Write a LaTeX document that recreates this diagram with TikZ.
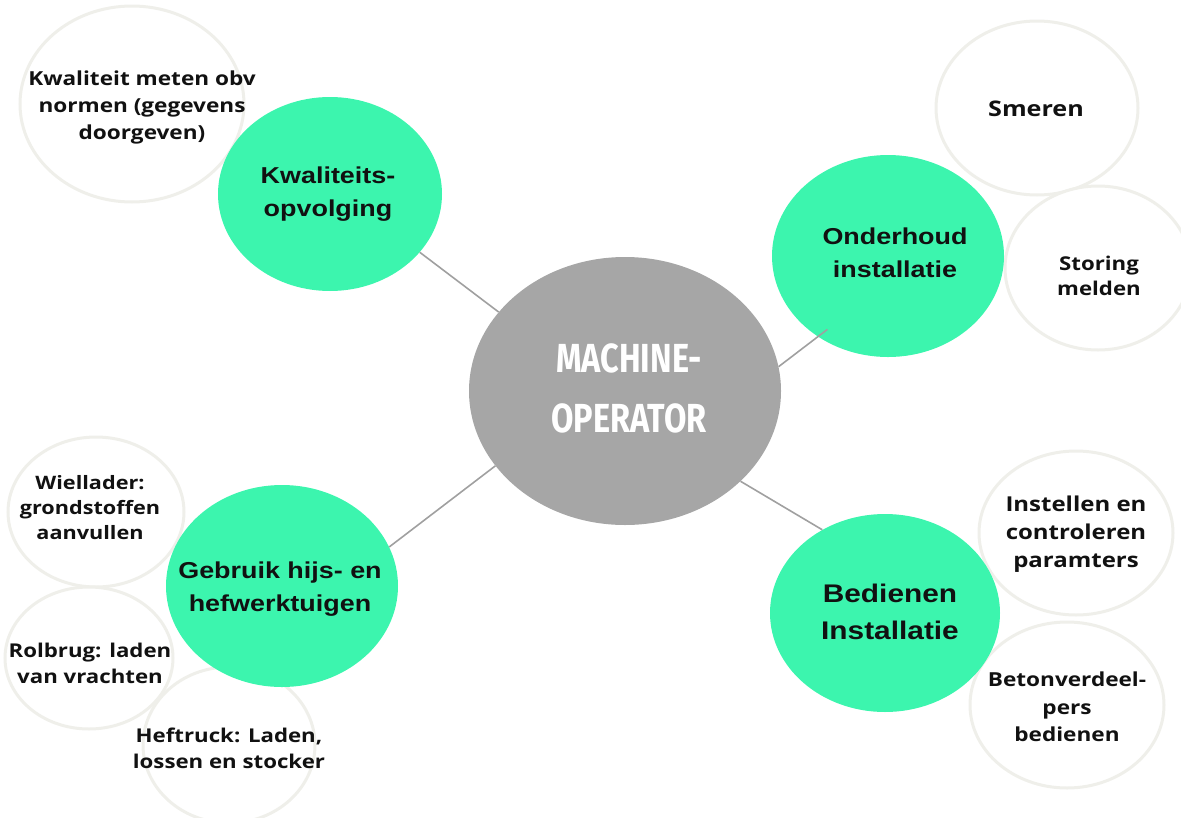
\documentclass[tikz,border=0pt]{standalone}
\usepackage{fontspec}
\usetikzlibrary{shapes.geometric}
\newfontfamily\greenfont{Liberation Sans}[FakeStretch=1.17]
\newfontfamily\whitefont{Open Sans}[FakeStretch=1.17]
\newfontfamily\hubfont{Fira Sans}[FakeStretch=0.8]
\definecolor{mint}{HTML}{3CF5AE}
\definecolor{hubgray}{HTML}{A6A6A6}
\definecolor{ringgray}{HTML}{EFEFEA}
\definecolor{linegray}{HTML}{A0A0A0}
\definecolor{inkblack}{HTML}{111111}
\tikzset{
  bubble/.style={ellipse, draw=ringgray, line width=3pt, fill=white, inner sep=0pt},
  topic/.style={ellipse, fill=mint, inner sep=0pt},
  hub/.style={ellipse, fill=hubgray, inner sep=0pt},
  link/.style={draw=linegray, line width=1.6pt},
  wtext/.style={align=center, inner sep=0pt, text=inkblack, font=\whitefont\bfseries\fontsize{19}{26}\selectfont},
  gtext/.style={align=center, inner sep=0pt, text=inkblack, font=\greenfont\bfseries\fontsize{23}{33.5}\selectfont},
  htext/.style={align=center, inner sep=0pt, text=white, font=\hubfont\bfseries\fontsize{40.6}{60}\selectfont},
}
\begin{document}
\begin{tikzpicture}[x=1pt,y=-1pt]
\useasboundingbox (0,0) rectangle (1181,817);
% white bubbles
\node[bubble, minimum width=224pt, minimum height=196pt] (b1) at (132,104) {};
\node[bubble, minimum width=202pt, minimum height=174pt] (b2) at (1037,108) {};
\node[bubble, minimum width=186pt, minimum height=164pt] (b3) at (1098,268) {};
\node[bubble, minimum width=176pt, minimum height=150pt] (b4) at (96,512) {};
\node[bubble, minimum width=168pt, minimum height=142pt] (b5) at (89,658) {};
\node[bubble, minimum width=172pt, minimum height=156pt] (b6) at (229,745) {};
\node[bubble, minimum width=194pt, minimum height=164pt] (b7) at (1076,533) {};
\node[bubble, minimum width=194pt, minimum height=166pt] (b8) at (1067,705) {};
% hub and topics
\node[hub, minimum width=312pt, minimum height=268pt] (mo) at (625,391) {};
\node[topic, minimum width=224pt, minimum height=194pt] (kw) at (330,194) {};
\node[topic, minimum width=232pt, minimum height=202pt] (ond) at (888,256) {};
\node[topic, minimum width=232pt, minimum height=202pt] (geb) at (282,586) {};
\node[topic, minimum width=230pt, minimum height=198pt] (bed) at (885,613) {};
% connectors
\draw[link] (kw.-33) -- (mo.148);
\draw[link, shorten >=-12pt] (mo.9) -- (ond.229);
\draw[link] (geb.20) -- (mo.210);
\draw[link] (mo.-38) -- (bed.127);
% texts
\node[htext] (tmo) at (629,388) {MACHINE-\\OPERATOR};
\node[gtext] (tkw) at (328,194) {Kwaliteits-\\opvolging};
\node[gtext] (tond) at (895,253) {Onderhoud\\installatie};
\node[gtext] (tgeb) at (280,589) {Gebruik hijs- en\\hefwerktuigen};
\node[gtext, font=\greenfont\bfseries\fontsize{25.5}{37}\selectfont] (tbed) at (890,612) {Bedienen\\Installatie};
\node[wtext, font=\whitefont\bfseries\fontsize{19.3}{27}\selectfont] (tb1) at (142,107) {Kwaliteit meten obv\\normen (gegevens\\doorgeven)};
\node[wtext, font=\whitefont\bfseries\fontsize{21.5}{26}\selectfont] (tb2) at (1036,109) {Smeren};
\node[wtext, font=\whitefont\bfseries\fontsize{19}{25}\selectfont] (tb3) at (1099,276) {Storing\\melden};
\node[wtext, font=\whitefont\bfseries\fontsize{18.5}{25}\selectfont] (tb4) at (90,508) {Wiellader:\\grondstoffen\\aanvullen};
\node[wtext] (tb5) at (90,663) {Rolbrug: laden\\van vrachten};
\node[wtext] (tb6) at (229,748) {Heftruck: Laden,\\lossen en stocker};
\node[wtext, font=\whitefont\bfseries\fontsize{20.5}{28}\selectfont] (tb7) at (1076,534) {Instellen en\\controleren\\paramters};
\node[wtext, font=\whitefont\bfseries\fontsize{19.3}{27.5}\selectfont] (tb8) at (1067,707) {Betonverdeel-\\pers\\bedienen};
\end{tikzpicture}
\end{document}
